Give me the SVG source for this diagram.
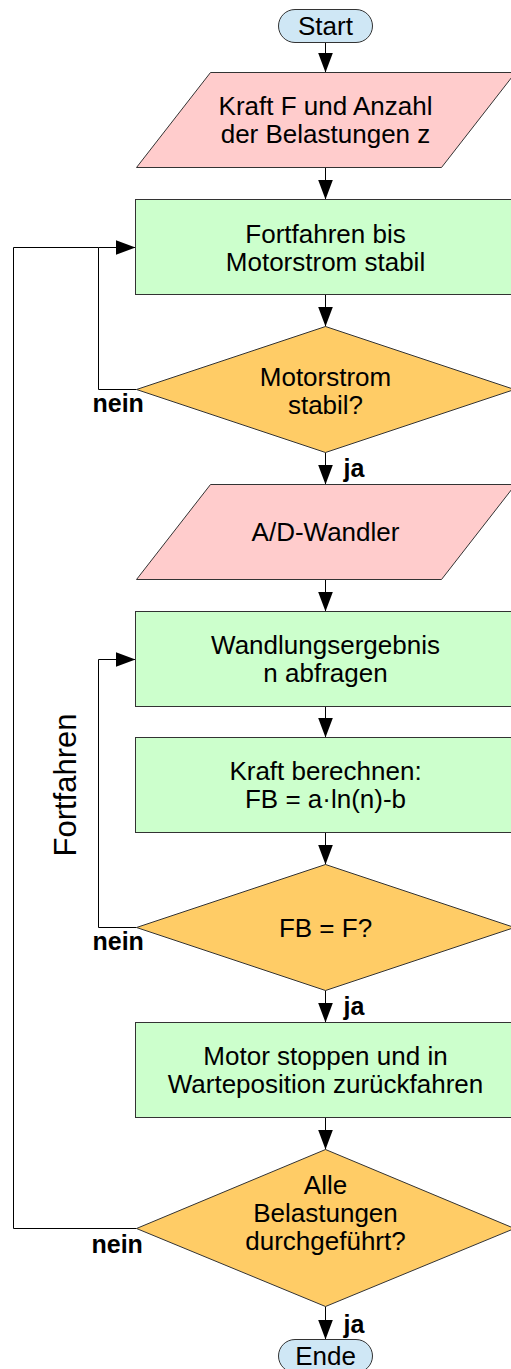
<svg xmlns="http://www.w3.org/2000/svg" width="511" height="1369" viewBox="0 0 511 1369">
  <style>
    .term { fill: #cfe7f5; stroke: #333333; stroke-width: 1; }
    .io { fill: #ffcccc; stroke: #333333; stroke-width: 1; }
    .proc { fill: #ccffcc; stroke: #333333; stroke-width: 1; }
    .dec { fill: #ffcc66; stroke: #333333; stroke-width: 1; }
    .conn { fill: none; stroke: #000000; stroke-width: 1; }
    .lbl { font-family: "Liberation Sans", Arial, sans-serif; font-size: 26px; fill: #000000; text-anchor: middle; }
    .side { font-family: "Liberation Sans", Arial, sans-serif; font-size: 31px; fill: #000000; text-anchor: middle; }
    .branch { font-family: "Liberation Sans", Arial, sans-serif; font-size: 25px; font-weight: bold; fill: #000000; }
  </style>
  <defs>
    <marker id="arrow" viewBox="0 0 20 15" refX="20" refY="7.5" markerWidth="20" markerHeight="15" orient="auto" markerUnits="userSpaceOnUse">
      <path d="M0,0 L20,7.5 L0,15 Z" fill="#000000"/>
    </marker>
  </defs>

  <!-- connectors -->
  <g id="connectors">
    <path class="conn" d="M325.5,42.5 V72.5" marker-end="url(#arrow)"/>
    <path class="conn" d="M325.5,167.5 V199.5" marker-end="url(#arrow)"/>
    <path class="conn" d="M325.5,294.5 V326.5" marker-end="url(#arrow)"/>
    <path class="conn" d="M325.5,452.5 V484.5" marker-end="url(#arrow)"/>
    <path class="conn" d="M325.5,579.5 V611.5" marker-end="url(#arrow)"/>
    <path class="conn" d="M325.5,706.5 V737.5" marker-end="url(#arrow)"/>
    <path class="conn" d="M325.5,832.5 V864.5" marker-end="url(#arrow)"/>
    <path class="conn" d="M325.5,990.5 V1022.5" marker-end="url(#arrow)"/>
    <path class="conn" d="M325.5,1117.5 V1149.5" marker-end="url(#arrow)"/>
    <path class="conn" d="M325.5,1306.5 V1339.5" marker-end="url(#arrow)"/>
    <!-- loop: current not yet stable -->
    <path class="conn" d="M136.5,389.5 H98.5 V247.5 H135.5" marker-end="url(#arrow)"/>
    <!-- loop: force not yet reached -->
    <path class="conn" d="M136.5,927.5 H98.5 V659.5 H135.5" marker-end="url(#arrow)"/>
    <!-- loop: further loadings pending -->
    <path class="conn" d="M136.5,1228.5 H13.5 V247.5 H98.5"/>
    <text class="branch" x="92.5" y="412">nein</text>
    <text class="branch" x="343.5" y="477">ja</text>
    <text class="branch" x="92.5" y="950">nein</text>
    <text class="branch" x="343.5" y="1015">ja</text>
    <text class="branch" x="91.5" y="1253">nein</text>
    <text class="branch" x="343.5" y="1333">ja</text>
    <text class="side" transform="translate(76,785) rotate(-90)">Fortfahren</text>
  </g>

  <g id="start">
    <rect class="term" x="278.5" y="9.5" width="94" height="33" rx="16.5" ry="16.5"/>
    <text class="lbl" x="325.5" y="34.5">Start</text>
  </g>

  <g id="input-force">
    <polygon class="io" points="210.5,72.5 515.5,72.5 441.5,167.5 136.5,167.5"/>
    <text class="lbl" x="325.5" y="115.3">Kraft F und Anzahl</text>
    <text class="lbl" x="325.5" y="143.3">der Belastungen z</text>
  </g>

  <g id="drive-until-stable">
    <rect class="proc" x="135.5" y="199.5" width="380" height="95"/>
    <text class="lbl" x="325.5" y="242.5">Fortfahren bis</text>
    <text class="lbl" x="325.5" y="270.5">Motorstrom stabil</text>
  </g>

  <g id="current-stable">
    <polygon class="dec" points="325.5,326.5 514.5,389.5 325.5,452.5 136.5,389.5"/>
    <text class="lbl" x="325.5" y="386">Motorstrom</text>
    <text class="lbl" x="325.5" y="414">stabil?</text>
  </g>

  <g id="adc">
    <polygon class="io" points="210.5,484.5 515.5,484.5 441.5,579.5 136.5,579.5"/>
    <text class="lbl" x="325.5" y="541">A/D-Wandler</text>
  </g>

  <g id="read-result">
    <rect class="proc" x="135.5" y="611.5" width="380" height="95"/>
    <text class="lbl" x="325.5" y="653.5">Wandlungsergebnis</text>
    <text class="lbl" x="325.5" y="681.5">n abfragen</text>
  </g>

  <g id="compute-force">
    <rect class="proc" x="135.5" y="737.5" width="380" height="95"/>
    <text class="lbl" x="325.5" y="780.3">Kraft berechnen:</text>
    <text class="lbl" x="325.5" y="808.3">FB = a·ln(n)-b</text>
  </g>

  <g id="force-reached">
    <polygon class="dec" points="325.5,864.5 514.5,927.5 325.5,990.5 136.5,927.5"/>
    <text class="lbl" x="325.5" y="936.8">FB = F?</text>
  </g>

  <g id="stop-motor">
    <rect class="proc" x="135.5" y="1022.5" width="380" height="95"/>
    <text class="lbl" x="325.5" y="1065.3">Motor stoppen und in</text>
    <text class="lbl" x="325.5" y="1093.3">Warteposition zurückfahren</text>
  </g>

  <g id="all-done">
    <polygon class="dec" points="325.5,1149.5 514.5,1228.5 325.5,1306.5 136.5,1228.5"/>
    <text class="lbl" x="325.5" y="1194">Alle</text>
    <text class="lbl" x="325.5" y="1222">Belastungen</text>
    <text class="lbl" x="325.5" y="1250">durchgeführt?</text>
  </g>

  <g id="end">
    <rect class="term" x="278.5" y="1339.5" width="94" height="33" rx="16.5" ry="16.5"/>
    <text class="lbl" x="325.5" y="1364.5">Ende</text>
  </g>
</svg>
